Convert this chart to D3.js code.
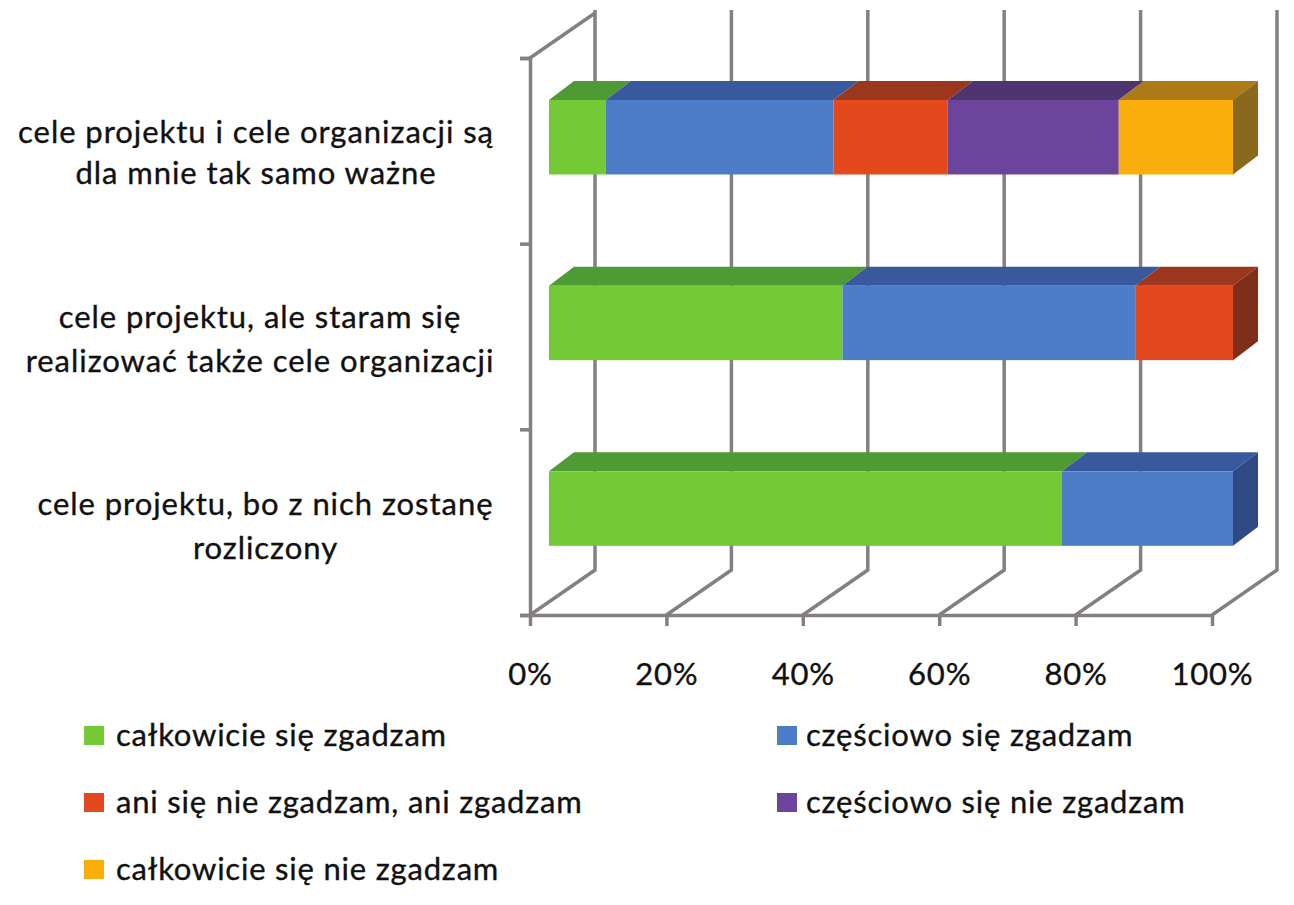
<!DOCTYPE html>
<html><head><meta charset="utf-8">
<script src="https://cdn.jsdelivr.net/npm/d3@7/dist/d3.min.js"></script>
<style>html,body{margin:0;padding:0;background:#fff}svg{display:block}text{font-family:Lato,"Open Sans",sans-serif;fill:#111;stroke:#111;stroke-width:.35px;letter-spacing:.8px}.cat{letter-spacing:.95px}</style>
</head><body><svg id="c" width="1294" height="905"></svg>
<script>
const categories = ["top", "middle", "bottom"];
const seriesNames = ["całkowicie się zgadzam","częściowo się zgadzam","ani się nie zgadzam, ani zgadzam","częściowo się nie zgadzam","całkowicie się nie zgadzam"];
const agreeFully = [8.3, 42.9, 75];
const agreePartly = [33.3, 42.8, 25];
const neutral = [16.7, 14.3, 0];
const disagreePartly = [25, 0, 0];
const disagreeFully = [16.7, 0, 0];
const categoryLines = [
  ["cele projektu i cele organizacji są","dla mnie tak samo ważne"],
  ["cele projektu, ale staram się","realizować także cele organizacji"],
  ["cele projektu, bo z nich zostanę","rozliczony"]];
const tickValues = [0,20,40,60,80,100];
const frontColors = ["#73C936","#4D7DC6","#E3491D","#6C449C","#F9AE0B"];
const topColors = ["#4E9A35","#38599B","#9B371D","#4F3570","#AD7A18"];
const sideColors = ["#3F7A2C","#2F4A82","#7F2E1A","#432B55","#8A681E"];

const rows = categories.map((c,i)=>({c, s0:agreeFully[i], s1:agreePartly[i], s2:neutral[i], s3:disagreePartly[i], s4:disagreeFully[i]}));
const keys = ["s0","s1","s2","s3","s4"];
const stacked = d3.stack().keys(keys)(rows);

const svg = d3.select("#c");
const floorX = d3.scaleLinear().domain([0,100]).range([530,1212]);
const barX = d3.scaleLinear().domain([0,100]).range([549,1233]);
const yBand = d3.scaleBand().domain(categories).range([58,615]);
const wallDx = 65, wallDy = -45, barDx = 25, barDy = -19, barH = 74.5, barShift = -13.6;
const axisC = "#858080";
const barTop = c => yBand(c) + (yBand.bandwidth()-barH)/2 + barShift;

// walls: gridlines and floor rays
const g = svg.append("g").attr("stroke",axisC).attr("stroke-width",3.5).attr("fill","none");
tickValues.forEach(t=>{
  const x = floorX(t);
  g.append("path").attr("d",d3.line()([[x,615],[x+wallDx,615+wallDy],[x+wallDx,10]]));
});
g.append("path").attr("d",d3.line()([[530,58],[530+wallDx,58+wallDy]]));

// y axis and x axis
const yAxis = svg.append("g").attr("transform","translate(530,0)").call(
  d3.axisLeft(d3.scalePoint().domain(d3.range(4)).range([58,615])).tickSize(10).tickFormat(""));
const xAxis = svg.append("g").attr("transform","translate(0,615)").call(
  d3.axisBottom(floorX).tickValues(tickValues).tickSize(11).tickSizeOuter(0).tickFormat(d=>d+"%").tickPadding(25));
[yAxis,xAxis].forEach(a=>{a.selectAll("path,line").attr("stroke",axisC).attr("stroke-width",3.5);});
xAxis.selectAll("text").attr("font-size",31).attr("dy",0).attr("y",70);

// bars
stacked.forEach((layer,k)=>{
  const gg = svg.append("g");
  layer.forEach(d=>{
    if (d[1]-d[0] <= 0) return;
    const c = d.data.c, x0 = barX(d[0]), x1 = barX(d[1]), y = barTop(c);
    gg.append("polygon").attr("fill",topColors[k]).attr("points",[[x0,y],[x0+barDx,y+barDy],[x1+barDx,y+barDy],[x1,y]].join(" "));
    gg.append("rect").attr("x",x0).attr("y",y).attr("width",x1-x0).attr("height",barH).attr("fill",frontColors[k]);
    if (d[1] >= 99.9)
      gg.append("polygon").attr("fill",sideColors[k]).attr("points",[[x1,y],[x1+barDx,y+barDy],[x1+barDx,y+barDy+barH],[x1,y+barH]].join(" "));
  });
});

// category labels
const labelCx = [256,260,265.5];
const labelBaselines = [[143,184],[328,372],[515,559]];
categoryLines.forEach((lines,i)=>{
  lines.forEach((t,j)=>svg.append("text").attr("class","cat").attr("x",labelCx[i]).attr("y",labelBaselines[i][j])
    .attr("text-anchor","middle").attr("font-size",31).text(t));
});

// legend
const legendX = [84,777], legendY = [726,793,860];
seriesNames.forEach((n,i)=>{
  const x = legendX[i%2], y = legendY[Math.floor(i/2)];
  svg.append("rect").attr("x",x).attr("y",y).attr("width",20).attr("height",19).attr("fill",frontColors[i]);
  svg.append("text").attr("x",i%2?x+29:x+32).attr("y",y+20).attr("font-size",31).text(n);
});
</script></body></html>
